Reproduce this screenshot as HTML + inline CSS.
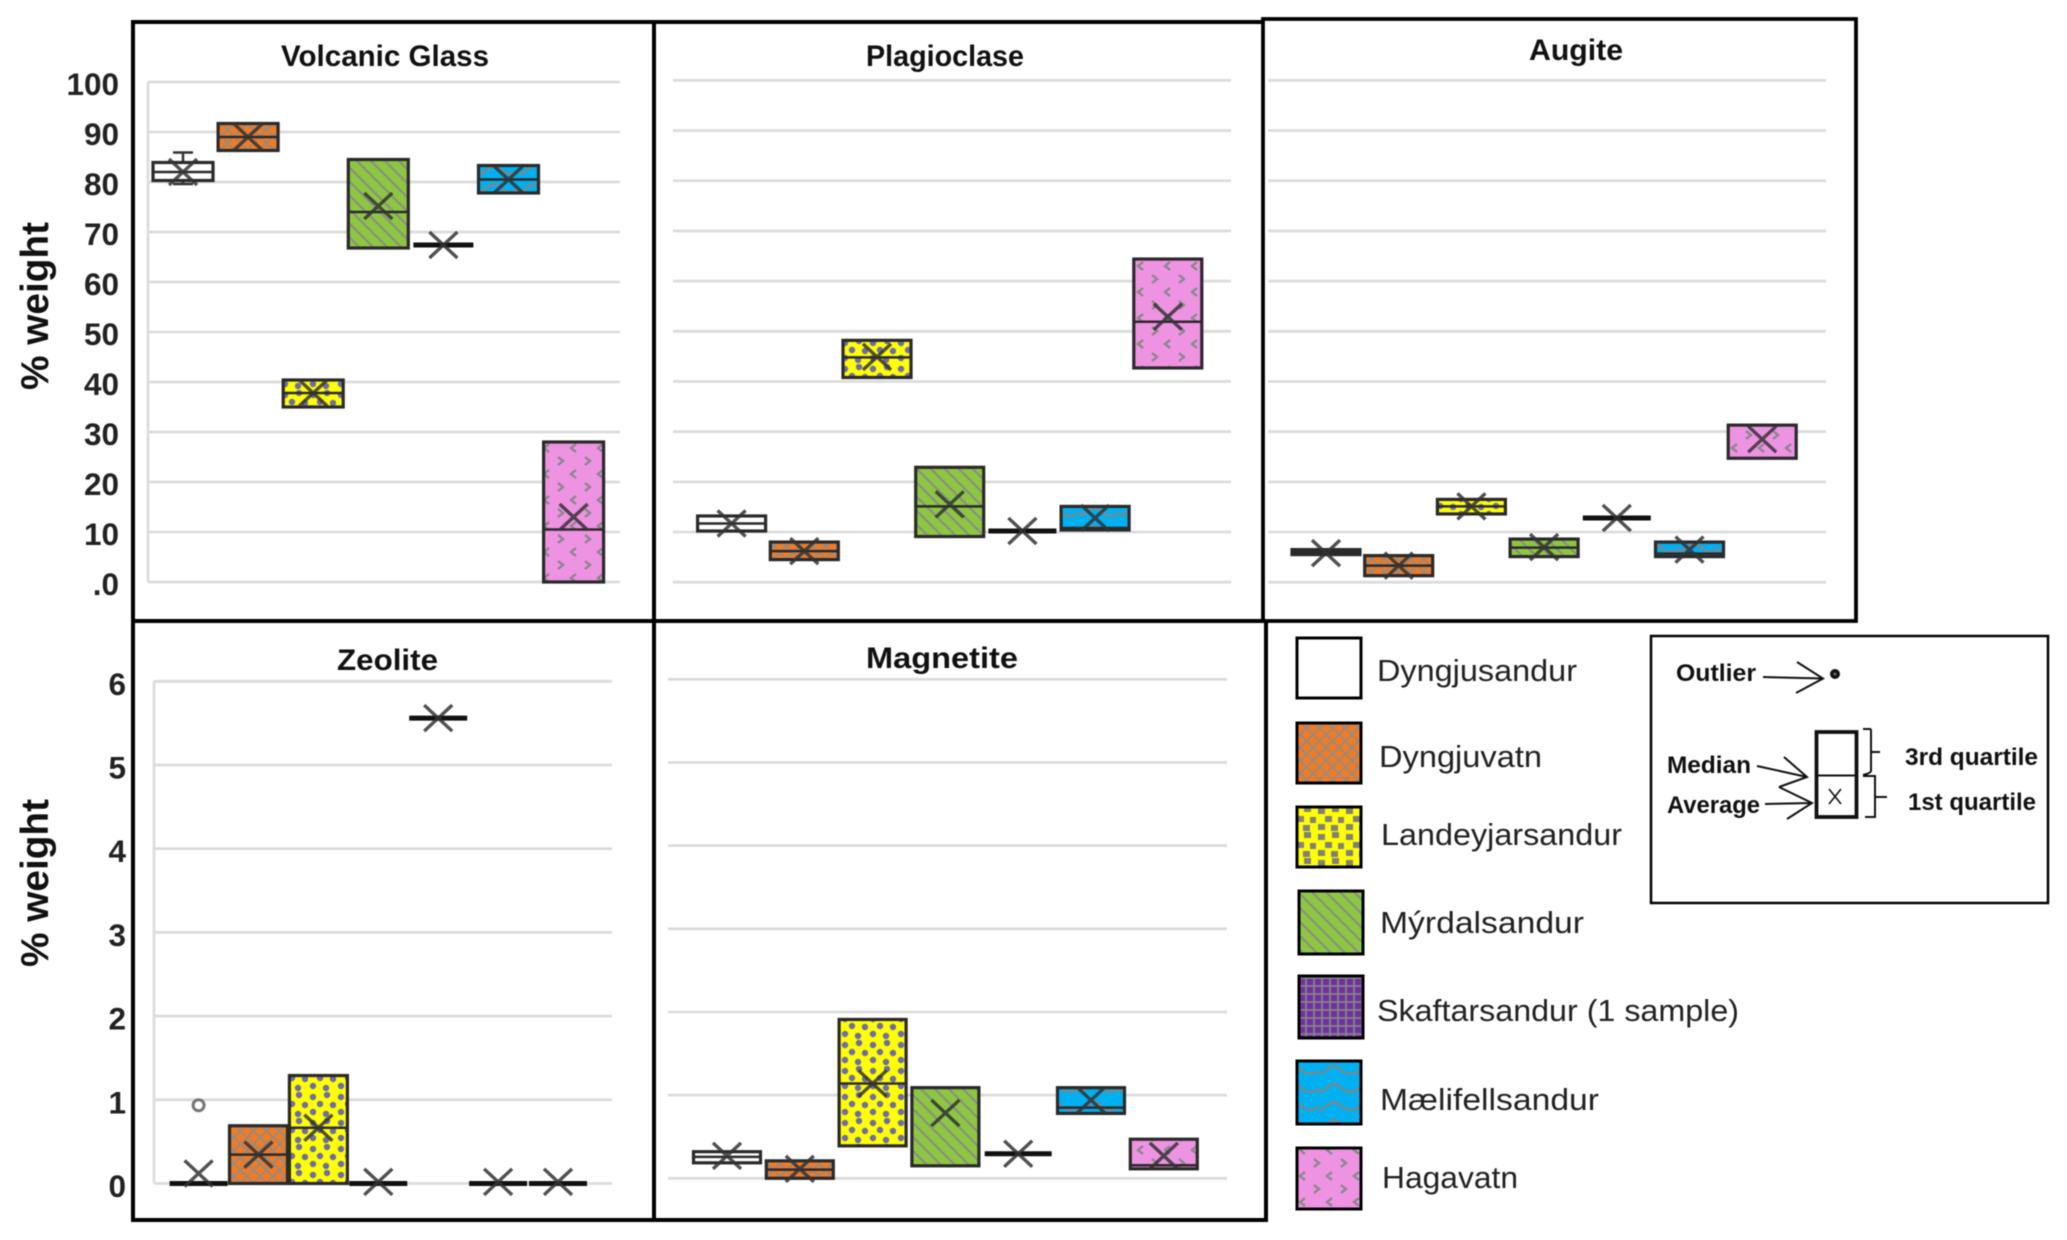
<!DOCTYPE html>
<html lang="en">
<head>
<meta charset="utf-8">
<title>Mineral composition box plots</title>
<style>
html,body{margin:0;padding:0;background:#fff;}
svg{display:block;filter:blur(0.6px);}
text{font-family:"Liberation Sans",sans-serif;fill:#111;}
.tick{font-weight:bold;font-size:31.5px;fill:#222;}
.title{font-weight:bold;font-size:30px;}
.axis{font-weight:bold;font-size:39px;fill:#111;}
.leg{font-size:31px;fill:#222;}
.key{font-weight:bold;font-size:24px;fill:#111;}
</style>
</head>
<body>
<svg id="chart" xmlns="http://www.w3.org/2000/svg" width="2067" height="1240" viewBox="0 0 2067 1240">
<defs>
  <pattern id="p-white" patternUnits="userSpaceOnUse" width="10" height="10"><rect width="10" height="10" fill="#fff"/></pattern>
  <pattern id="p-orange" patternUnits="userSpaceOnUse" width="13" height="13">
    <rect width="13" height="13" fill="#F47A20"/>
    <path d="M0 6.5L6.5 0L13 6.5L6.5 13Z" fill="none" stroke="#8c8c8c" stroke-width="1.7"/>
  </pattern>
  <pattern id="p-yellow" patternUnits="userSpaceOnUse" width="28" height="26">
    <rect width="28" height="26" fill="#FFFF00"/>
    <circle cx="5" cy="5" r="3.2" fill="#6C6CB4"/><circle cx="19" cy="3" r="3.2" fill="#6C6CB4"/>
    <circle cx="12" cy="12" r="3.2" fill="#6C6CB4"/><circle cx="25" cy="13" r="3.2" fill="#6C6CB4"/>
    <circle cx="5" cy="20" r="3.2" fill="#6C6CB4"/><circle cx="18" cy="22" r="3.2" fill="#6C6CB4"/>
  </pattern>
  <pattern id="p-yellow-key" patternUnits="userSpaceOnUse" width="28" height="26">
    <rect width="28" height="26" fill="#FFFF00"/>
    <rect x="2" y="2" width="7" height="6" fill="#808080"/><rect x="16" y="0" width="7" height="6" fill="#808080"/>
    <rect x="9" y="10" width="7" height="6" fill="#808080"/><rect x="22" y="11" width="6" height="6" fill="#808080"/>
    <rect x="2" y="18" width="7" height="6" fill="#808080"/><rect x="15" y="19" width="7" height="6" fill="#808080"/>
  </pattern>
  <pattern id="p-green" patternUnits="userSpaceOnUse" width="14" height="14">
    <rect width="14" height="14" fill="#8CC83E"/>
    <path d="M-4 -4L18 18M-4 10L4 18M10 -4L18 4" stroke="#8c8c8c" stroke-width="2.2"/>
  </pattern>
  <pattern id="p-purple" patternUnits="userSpaceOnUse" width="8" height="8">
    <rect width="8" height="8" fill="#7030A0"/>
    <path d="M0 2H8M2 0V8" stroke="#858585" stroke-width="1.8"/>
  </pattern>
  <pattern id="p-blue" patternUnits="userSpaceOnUse" width="40" height="18">
    <rect width="40" height="18" fill="#00B0F0"/>
    <path d="M-2 12C6 12 8 4 14 4C20 4 22 12 30 12C34 12 38 10 42 8" fill="none" stroke="#858585" stroke-width="2.2"/>
  </pattern>
  <pattern id="p-pink" patternUnits="userSpaceOnUse" width="27" height="26">
    <rect width="27" height="26" fill="#EE92E2"/>
    <path d="M9 2L4 6L9 10M18 15L23 19L18 23" fill="none" stroke="#888" stroke-width="2.4"/>
  </pattern>
</defs>

<rect width="2067" height="1240" fill="#fff"/>
<g id="plots"></g>

<g fill="none" stroke="#000" stroke-width="4">
  <path d="M1263 22H133V621H1263"/>
  <rect x="1269" y="19" width="0" height="0" stroke="none"/>
  <rect x="1269" y="19" width="587" height="602" stroke="none"/>
  <rect x="1263" y="19" width="593" height="602" stroke-width="3.8"/>
  <path d="M133 621V1220H1266V621"/>
  <path d="M654 22V1220"/>
</g>

<g>
  <text class="title" x="281" y="66" textLength="208" lengthAdjust="spacingAndGlyphs">Volcanic Glass</text>
  <text class="title" x="866" y="66" textLength="158" lengthAdjust="spacingAndGlyphs">Plagioclase</text>
  <text class="title" x="1529" y="60" textLength="94" lengthAdjust="spacingAndGlyphs">Augite</text>
  <text class="title" x="337" y="670" textLength="101" lengthAdjust="spacingAndGlyphs">Zeolite</text>
  <text class="title" x="866" y="668" textLength="152" lengthAdjust="spacingAndGlyphs">Magnetite</text>
</g>

<text class="axis" transform="translate(48 390) rotate(-90)" textLength="168" lengthAdjust="spacingAndGlyphs">% weight</text>
<text class="axis" transform="translate(48 967) rotate(-90)" textLength="168" lengthAdjust="spacingAndGlyphs">% weight</text>

<g>
  <g stroke="#000" stroke-width="3">
    <rect x="1297" y="638" width="64" height="60" fill="#fff"/>
    <rect x="1297" y="723" width="64" height="60" fill="url(#p-orange)"/>
    <rect x="1297" y="807" width="64" height="60" fill="url(#p-yellow-key)"/>
    <rect x="1299" y="891" width="64" height="63" fill="url(#p-green)"/>
    <rect x="1299" y="976" width="64" height="62" fill="url(#p-purple)"/>
    <rect x="1297" y="1061" width="64" height="63" fill="url(#p-blue)"/>
    <rect x="1297" y="1148" width="64" height="61" fill="url(#p-pink)"/>
  </g>
  <text class="leg" x="1377" y="681" textLength="200" lengthAdjust="spacingAndGlyphs">Dyngjusandur</text>
  <text class="leg" x="1379" y="767" textLength="163" lengthAdjust="spacingAndGlyphs">Dyngjuvatn</text>
  <text class="leg" x="1381" y="845" textLength="241" lengthAdjust="spacingAndGlyphs">Landeyjarsandur</text>
  <text class="leg" x="1380" y="933" textLength="204" lengthAdjust="spacingAndGlyphs">Mýrdalsandur</text>
  <text class="leg" x="1377" y="1021" textLength="362" lengthAdjust="spacingAndGlyphs">Skaftarsandur (1 sample)</text>
  <text class="leg" x="1380" y="1110" textLength="219" lengthAdjust="spacingAndGlyphs">Mælifellsandur</text>
  <text class="leg" x="1382" y="1188" textLength="136" lengthAdjust="spacingAndGlyphs">Hagavatn</text>
</g>

<g>
  <rect x="1651" y="636" width="397" height="267" fill="#fff" stroke="#000" stroke-width="2.5"/>
  <text class="key" x="1676" y="681" textLength="80" lengthAdjust="spacingAndGlyphs">Outlier</text>
  <text class="key" x="1667" y="773" textLength="84" lengthAdjust="spacingAndGlyphs">Median</text>
  <text class="key" x="1667" y="813" textLength="93" lengthAdjust="spacingAndGlyphs">Average</text>
  <text class="key" x="1905" y="765" textLength="133" lengthAdjust="spacingAndGlyphs">3rd quartile</text>
  <text class="key" x="1908" y="810" textLength="128" lengthAdjust="spacingAndGlyphs">1st quartile</text>
  <g fill="none" stroke="#111" stroke-width="2">
    <path d="M1763 677L1823 678.5M1797 662L1823 678.5L1796 693"/>
    <path d="M1757 766L1807 777M1784 757L1807 777L1779 787"/>
    <path d="M1765 804L1812 803M1779 787L1812 803L1787 819"/>
    <rect x="1816.5" y="732" width="40" height="85" stroke-width="3.8"/>
    <path d="M1816.5 775.5H1856.5"/>
    <path d="M1829 789L1841 804M1841 789L1829 804" stroke-width="1.6"/>
    <path d="M1863 729H1870Q1871 729 1871 731V771Q1871 773 1863 775M1871 752H1880"/>
    <path d="M1863 776H1875V817H1865M1875 797H1887"/>
  </g>
  <circle cx="1835" cy="674" r="3.2" fill="#777" stroke="#111" stroke-width="3.6"/>
</g>
</svg>

<script>
const categories = ["Dyngjusandur","Dyngjuvatn","Landeyjarsandur","Mýrdalsandur","Skaftarsandur","Mælifellsandur","Hagavatn"];
const percentTicks = ["100","90","80","70","60","50","40","30","20","10",".0"];
const percentTickValues = [100,90,80,70,60,50,40,30,20,10,0];
const smallTicks = ["6","5","4","3","2","1","0"];
const smallTickValues = [6,5,4,3,2,1,0];

const glassQ1 = [80.3,86.3,35,66.8,67.4,77.8,0];
const glassQ3 = [83.9,91.7,40.4,84.5,67.4,83.3,28];
const glassMedian = [82,89,37.8,74,67.4,80.5,10.5];
const glassMean = [82,89,37.8,75.2,67.4,80.5,13];
const glassWhiskerHigh = [85.9,null,null,null,null,null,null];
const glassWhiskerLow = [79.6,null,null,null,null,null,null];

const plagQ1 = [10.2,4.5,40.8,9.1,10.2,10.4,42.7];
const plagQ3 = [13.2,8,48.2,22.9,10.2,15.1,64.4];
const plagMedian = [11.7,6.2,44.8,15.1,10.2,10.8,51.9];
const plagMean = [11.7,6.2,44.9,15.5,10.2,12.8,52.9];

const augiteQ1 = [5.5,1.3,13.6,5.1,12.8,5.1,24.7];
const augiteQ3 = [6.5,5.3,16.5,8.6,12.8,8,31.3];
const augiteMedian = [6,3.3,15.1,6.9,12.8,5.7,24.7];
const augiteMean = [5.8,3.3,15.1,7,12.8,6.5,28.5];

const zeoliteQ1 = [0,0,0,0,5.56,0,0];
const zeoliteQ3 = [0,0.69,1.29,0,5.56,0,0];
const zeoliteMedian = [0,0.345,0.666,0,5.56,0,0];
const zeoliteMean = [0.12,0.345,0.666,0.02,5.56,0.02,0.02];
const zeoliteOutliers = [0.935,null,null,null,null,null,null];

const magnetiteQ1 = [0.186,0,0.39,0.15,0.295,0.78,0.114];
const magnetiteQ3 = [0.32,0.21,1.91,1.09,0.295,1.09,0.47];
const magnetiteMedian = [0.257,0.105,1.14,1.09,0.295,0.85,0.157];
const magnetiteMean = [0.27,0.114,1.14,0.785,0.295,0.94,0.27];

const fillIds = ["p-white","p-orange","p-yellow","p-green","p-purple","p-blue","p-pink"];
const NS = "http://www.w3.org/2000/svg";
const layer = document.getElementById("plots");

function make(parent, tag, attrs) {
  const node = document.createElementNS(NS, tag);
  for (const key in attrs) node.setAttribute(key, attrs[key]);
  parent.appendChild(node);
  return node;
}

function drawPanel(p) {
  const group = make(layer, "g", {});
  
  

  const yScale = v => p.yZero - v * (p.yZero - p.yTop) / p.vMax;
  const xScale = i => p.x0 + i * p.step;

  if (p.axisLine) {
    const axis = make(group, "line", {x1:p.gridL, x2:p.gridL, y1:yScale(p.vMax), y2:yScale(0), stroke:"#dcdcdc", "stroke-width":2.8});
    
    
  }
  p.tickValues.forEach((v, i) => {
    const grid = make(group, "line", {x1:p.gridL, x2:p.gridR, y1:yScale(v), y2:yScale(v), stroke:"#dcdcdc", "stroke-width":2.8});
    
    
    if (p.tickLabels) {
      const label = make(group, "text", {x:p.tickRight, y:yScale(v) + p.tickDy, "text-anchor":"end", class:"tick"});
      
      
      label.textContent = p.tickLabels[i];
    }
  });

  categories.forEach((cat, i) => {
    const slug = p.key + '-' + i;
    const cx = xScale(i);
    const half = p.boxW / 2;
    const q1 = p.q1[i], q3 = p.q3[i];

    if (p.whiskerHigh && p.whiskerHigh[i] != null) {
      const whisker = make(group, "path", {
        d:"M" + cx + " " + yScale(p.whiskerHigh[i]) + "V" + yScale(q3) +
          "M" + (cx - 10) + " " + yScale(p.whiskerHigh[i]) + "H" + (cx + 10) +
          "M" + cx + " " + yScale(q1) + "V" + yScale(p.whiskerLow[i]) +
          "M" + (cx - 10) + " " + yScale(p.whiskerLow[i]) + "H" + (cx + 10),
        stroke:"#333", "stroke-width":2.5, fill:"none"});
      
      
    }

    if (q3 > q1) {
      const box = make(group, "rect", {x:cx - half, y:yScale(q3), width:p.boxW, height:yScale(q1) - yScale(q3), fill:"url(#" + fillIds[i] + ")", stroke:"#2a2a2a", "stroke-width":3.2});
      
      
      const med = make(group, "line", {x1:cx - half, x2:cx + half, y1:yScale(p.median[i]), y2:yScale(p.median[i]), stroke:"#2a2a2a", "stroke-width":2.5});
      
      
    } else {
      const flat = make(group, "line", {x1:cx - half, x2:cx + half, y1:yScale(q1), y2:yScale(q1), stroke:"#111", "stroke-width":5});
      
      
    }

    const my = yScale(p.mean[i]);
    const mark = make(group, "path", {d:"M" + (cx - 14) + " " + (my - 13) + "L" + (cx + 14) + " " + (my + 13) + "M" + (cx + 14) + " " + (my - 13) + "L" + (cx - 14) + " " + (my + 13), stroke:"#333", "stroke-width":3.4, fill:"none", opacity:0.85});
    
    

    if (p.outliers && p.outliers[i] != null) {
      const dot = make(group, "circle", {cx:cx, cy:yScale(p.outliers[i]), r:5.5, fill:"#fff", stroke:"#777", "stroke-width":3});
      
      
    }
  });
}

drawPanel({key:"volcanic-glass", x0:183, step:65.1, boxW:60, gridL:148, gridR:620, yTop:82, yZero:582, vMax:100, axisLine:true,
  tickValues:percentTickValues, tickLabels:percentTicks, tickRight:119, tickDy:13,
  q1:glassQ1, q3:glassQ3, median:glassMedian, mean:glassMean, whiskerHigh:glassWhiskerHigh, whiskerLow:glassWhiskerLow});
drawPanel({key:"plagioclase", x0:731.6, step:72.7, boxW:68, gridL:673, gridR:1231, yTop:80.4, yZero:582.2, vMax:100,
  tickValues:percentTickValues, q1:plagQ1, q3:plagQ3, median:plagMedian, mean:plagMean});
drawPanel({key:"augite", x0:1326, step:72.7, boxW:68, gridL:1268, gridR:1826, yTop:80.4, yZero:582.2, vMax:100,
  tickValues:percentTickValues, q1:augiteQ1, q3:augiteQ3, median:augiteMedian, mean:augiteMean});
drawPanel({key:"zeolite", x0:198.6, step:59.9, boxW:58, gridL:154, gridR:612, yTop:681.3, yZero:1183.5, vMax:6, axisLine:true,
  tickValues:smallTickValues, tickLabels:smallTicks, tickRight:126, tickDy:13.5,
  q1:zeoliteQ1, q3:zeoliteQ3, median:zeoliteMedian, mean:zeoliteMean, outliers:zeoliteOutliers});
drawPanel({key:"magnetite", x0:727, step:72.8, boxW:67, gridL:668, gridR:1227, yTop:679.3, yZero:1178.3, vMax:6,
  tickValues:smallTickValues, q1:magnetiteQ1, q3:magnetiteQ3, median:magnetiteMedian, mean:magnetiteMean});
</script>
</body>
</html>
